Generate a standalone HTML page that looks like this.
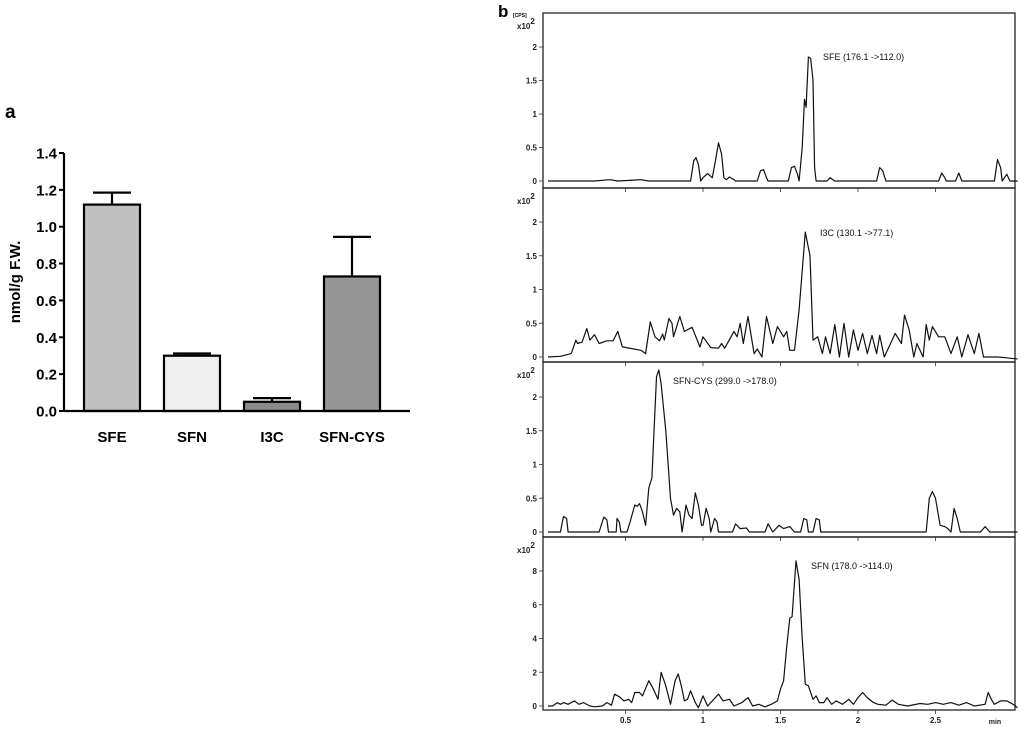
<!DOCTYPE html>
<html><head><meta charset="utf-8"><style>
html,body{margin:0;padding:0;background:#fff;}
svg{display:block;font-family:"Liberation Sans",Arial,sans-serif;}
</style></head><body>
<svg id="fig" width="1024" height="730" viewBox="0 0 1024 730">
<text x="5" y="118" font-size="19" font-weight="bold">a</text>
<text x="498" y="17" font-size="17" font-weight="bold">b</text>
<text x="513" y="17" font-size="5" font-weight="bold">[CPS]</text>
<g id="barChart"></g>
<g id="chrom"></g>
</svg>
<script>
const NS="http://www.w3.org/2000/svg";
function mk(tag,attrs,parent){const e=document.createElementNS(NS,tag);for(const k in attrs)e.setAttribute(k,attrs[k]);parent.appendChild(e);return e;}

// ---- Bar chart data ----
const barCategories=["SFE","SFN","I3C","SFN-CYS"];
const barValues=[1.12,0.30,0.05,0.73];
const barErrors=[0.065,0.012,0.02,0.215];
const barFills=["#c0c0c0","#efefef","#8a8a8a","#959595"];
const yTicks=[0,0.2,0.4,0.6,0.8,1.0,1.2,1.4];
const yTickLabels=["0.0","0.2","0.4","0.6","0.8","1.0","1.2","1.4"];

(function(){
  const g=document.getElementById('barChart');
  const x0=64,x1=410,yBase=411,yTop=153,yMax=1.4;
  const y=v=>yBase-(v/yMax)*(yBase-yTop);
  const bw=56;
  const xc=i=>112+i*80;
  barValues.forEach((v,i)=>{
    const cx=xc(i);
    const bx=cx-bw/2;
    const e=mk('line',{x1:cx,x2:cx,y1:y(v),y2:y(v+barErrors[i]),stroke:'#000','stroke-width':2.2},g);
    
    
    const c=mk('line',{x1:cx-19,x2:cx+19,y1:y(v+barErrors[i]),y2:y(v+barErrors[i]),stroke:'#000','stroke-width':2.2},g);
    
    
    const r=mk('rect',{x:bx,y:y(v),width:bw,height:yBase-y(v),fill:barFills[i],stroke:'#000','stroke-width':2.2},g);
    
    
    const t=mk('text',{x:cx,y:442,'font-size':15,'font-weight':'bold','text-anchor':'middle'},g);
    t.textContent=barCategories[i];
    
    
  });
  const ax=mk('line',{x1:x0,x2:x0,y1:yTop,y2:yBase,stroke:'#000','stroke-width':2.2},g);
  
  
  const bx=mk('line',{x1:x0,x2:x1,y1:yBase,y2:yBase,stroke:'#000','stroke-width':2.2},g);
  
  
  yTicks.forEach((v,i)=>{
    const tk=mk('line',{x1:x0-5,x2:x0,y1:y(v),y2:y(v),stroke:'#000','stroke-width':2},g);
    
    
    const tl=mk('text',{x:x0-7,y:y(v)+5.5,'font-size':15,'font-weight':'bold','text-anchor':'end'},g);
    tl.textContent=yTickLabels[i];
    
    
  });
  const yt=mk('text',{x:0,y:0,'font-size':15,'font-weight':'bold','text-anchor':'middle',transform:'translate(20,282) rotate(-90)'},g);
  yt.textContent='nmol/g F.W.';
  
  
})();

// ---- Chromatogram data (time min, intensity x10^2) ----
const sfeTrace=[0,0, 0.3,0, 0.4,0.02, 0.45,0, 0.6,0.02, 0.65,0, 0.92,0, 0.94,0.3, 0.955,0.35, 0.97,0.25, 0.985,0, 1.0,0.05, 1.03,0.11, 1.06,0.05, 1.08,0.3, 1.1,0.57, 1.12,0.4, 1.135,0.05, 1.15,0.02, 1.17,0.06, 1.2,0.02, 1.21,0, 1.35,0, 1.37,0.15, 1.39,0.17, 1.41,0.05, 1.42,0, 1.55,0, 1.57,0.2, 1.59,0.22, 1.61,0.1, 1.62,0, 1.64,0.5, 1.655,1.22, 1.665,1.1, 1.68,1.85, 1.695,1.83, 1.71,1.5, 1.72,0.2, 1.73,0, 1.8,0, 1.82,0.05, 1.85,0, 2.12,0, 2.14,0.2, 2.16,0.15, 2.18,0, 2.52,0, 2.54,0.12, 2.56,0.05, 2.57,0, 2.63,0, 2.65,0.12, 2.67,0, 2.88,0, 2.9,0.32, 2.92,0.2, 2.93,0, 2.96,0.1, 2.98,0, 3.03,0];
const i3cTrace=[0,0, 0.08,0.01, 0.15,0.05, 0.18,0.25, 0.19,0.2, 0.22,0.22, 0.25,0.42, 0.27,0.25, 0.3,0.33, 0.33,0.2, 0.38,0.24, 0.42,0.24, 0.45,0.38, 0.48,0.15, 0.6,0.1, 0.63,0.05, 0.66,0.52, 0.69,0.3, 0.72,0.24, 0.74,0.34, 0.75,0.25, 0.78,0.57, 0.8,0.5, 0.81,0.3, 0.85,0.6, 0.88,0.38, 0.93,0.44, 0.98,0.15, 1.0,0.3, 1.05,0.14, 1.1,0.13, 1.12,0.2, 1.14,0.13, 1.2,0.38, 1.22,0.3, 1.24,0.5, 1.26,0.2, 1.29,0.6, 1.33,0.05, 1.35,0.12, 1.38,0.0, 1.41,0.6, 1.45,0.2, 1.48,0.45, 1.52,0.3, 1.54,0.38, 1.56,0.1, 1.59,0.1, 1.62,0.7, 1.66,1.85, 1.69,1.5, 1.71,0.25, 1.74,0.3, 1.77,0.05, 1.79,0.3, 1.82,0.05, 1.85,0.48, 1.88,0, 1.91,0.5, 1.94,0, 1.97,0.4, 2.0,0.1, 2.03,0.35, 2.06,0.05, 2.09,0.32, 2.12,0.05, 2.14,0.32, 2.17,0, 2.24,0.35, 2.28,0.2, 2.3,0.62, 2.33,0.4, 2.36,0, 2.38,0.2, 2.42,0.0, 2.44,0.48, 2.46,0.25, 2.48,0.45, 2.52,0.3, 2.56,0.3, 2.6,0.05, 2.64,0.3, 2.67,0.0, 2.71,0.33, 2.75,0.05, 2.78,0.35, 2.81,0, 2.9,0, 2.95,-0.01, 3.03,-0.03];
const sfnCysTrace=[0,0, 0.08,0, 0.1,0.23, 0.12,0.2, 0.13,0, 0.33,0, 0.36,0.22, 0.38,0.18, 0.39,0, 0.44,0, 0.445,0.2, 0.46,0.15, 0.47,0, 0.51,0, 0.53,0.15, 0.56,0.4, 0.575,0.38, 0.59,0.42, 0.61,0.3, 0.63,0.1, 0.65,0.65, 0.67,0.8, 0.7,2.3, 0.715,2.4, 0.73,2.2, 0.76,1.5, 0.79,0.5, 0.81,0.25, 0.83,0.35, 0.85,0.3, 0.865,0, 0.89,0.4, 0.91,0.25, 0.93,0.2, 0.95,0.58, 0.97,0.4, 0.99,0.1, 1.0,0.1, 1.02,0.35, 1.04,0.2, 1.05,0, 1.075,0.2, 1.09,0.15, 1.1,0, 1.19,0, 1.21,0.12, 1.24,0.05, 1.28,0.06, 1.3,0, 1.4,0, 1.42,0.12, 1.45,0, 1.49,0.1, 1.52,0.05, 1.56,0.08, 1.59,0, 1.63,0, 1.65,0.2, 1.67,0.18, 1.68,0, 1.71,0, 1.73,0.2, 1.75,0.18, 1.76,0, 2.44,0, 2.46,0.5, 2.48,0.6, 2.5,0.5, 2.53,0.1, 2.56,0.08, 2.58,0.05, 2.6,0, 2.62,0.35, 2.64,0.2, 2.66,0, 2.79,0, 2.82,0.08, 2.85,0, 3.03,0];
const sfnTrace=[0,0, 0.03,0, 0.06,0.2, 0.08,0.1, 0.1,0.2, 0.13,0.1, 0.17,0.3, 0.2,0.1, 0.23,0.2, 0.27,0.0, 0.3,-0.05, 0.35,0.0, 0.38,0.2, 0.41,0.05, 0.43,0.7, 0.46,0.55, 0.49,0.3, 0.52,0.4, 0.54,0.2, 0.56,0.8, 0.59,0.8, 0.61,0.6, 0.65,1.5, 0.68,1.0, 0.71,0.4, 0.73,2.0, 0.76,1.2, 0.79,0.1, 0.82,1.5, 0.84,1.9, 0.86,1.2, 0.88,0.3, 0.9,0.4, 0.92,0.9, 0.95,0.2, 0.97,-0.1, 1.0,0.6, 1.03,0.0, 1.06,0.3, 1.1,0.7, 1.13,0.3, 1.17,0.4, 1.2,0.0, 1.25,0.2, 1.29,0.5, 1.32,0.0, 1.36,0.1, 1.4,-0.05, 1.44,0.1, 1.48,0.3, 1.5,1.0, 1.52,1.5, 1.54,3.5, 1.56,5.2, 1.575,5.3, 1.6,8.6, 1.62,7.5, 1.64,4.0, 1.66,1.3, 1.68,1.2, 1.71,0.4, 1.73,0.6, 1.75,0.2, 1.78,0.2, 1.8,0.5, 1.83,0.1, 1.86,0.3, 1.9,0.1, 1.94,0.4, 1.97,0.1, 2.0,0.5, 2.03,0.8, 2.06,0.5, 2.1,0.2, 2.13,0.1, 2.18,0.05, 2.22,0.35, 2.26,0.1, 2.32,0, 2.4,0.15, 2.45,0.1, 2.5,0.2, 2.55,0.1, 2.6,0.2, 2.65,0.05, 2.7,0.2, 2.75,0, 2.82,0.1, 2.84,0.8, 2.86,0.4, 2.88,0.1, 2.92,0.3, 2.96,0.3, 3.0,0.1, 3.03,-0.1];
const ticksA=[0,0.5,1,1.5,2];
const ticksA_labels=["0","0.5","1","1.5","2"];
const ticksSfn=[0,2,4,6,8];
const ticksSfn_labels=["0","2","4","6","8"];
const xTicks=[0.5,1,1.5,2,2.5];
const xTickLabels=["0.5","1","1.5","2","2.5"];

(function(){
  const g=document.getElementById('chrom');
  const fx0=543,fx1=1015,t0x=548,pxPerMin=155;
  const X=t=>t0x+t*pxPerMin;
  const panels=[
    {name:'sfe',top:13,bot:188,zero:181,ref:2,refY:47,data:sfeTrace,ticks:ticksA,labels:ticksA_labels,title:'SFE (176.1 ->112.0)',tx:823,ty:60},
    {name:'i3c',top:188,bot:362,zero:357,ref:2,refY:222,data:i3cTrace,ticks:ticksA,labels:ticksA_labels,title:'I3C (130.1 ->77.1)',tx:820,ty:236},
    {name:'sfn-cys',top:362,bot:537,zero:532,ref:2,refY:397,data:sfnCysTrace,ticks:ticksA,labels:ticksA_labels,title:'SFN-CYS (299.0 ->178.0)',tx:673,ty:384},
    {name:'sfn',top:537,bot:710,zero:706,ref:8,refY:571,data:sfnTrace,ticks:ticksSfn,labels:ticksSfn_labels,title:'SFN (178.0 ->114.0)',tx:811,ty:569}
  ];
  panels.forEach(p=>{
    const Y=v=>p.zero-v*(p.zero-p.refY)/p.ref;
    const fr=mk('rect',{x:fx0,y:p.top,width:fx1-fx0,height:p.bot-p.top,fill:'none',stroke:'#222','stroke-width':1.3},g);
    
    
    p.ticks.forEach((v,i)=>{
      const tk=mk('line',{x1:fx0-4,x2:fx0,y1:Y(v),y2:Y(v),stroke:'#333','stroke-width':0.8},g);
      
      
      const tl=mk('text',{x:fx0-6,y:Y(v)+3,'font-size':8,'font-weight':'bold','text-anchor':'end',fill:'#222'},g);
      tl.textContent=p.labels[i];
      
      
    });
    const ex=mk('text',{x:517,y:p.top+16,'font-size':8,'font-weight':'bold',fill:'#222'},g);
    ex.innerHTML='x10<tspan dy="-5" font-size="8">2</tspan>';
    
    
    xTicks.forEach(t=>{
      const tk=mk('line',{x1:X(t),x2:X(t),y1:p.bot,y2:p.bot+4,stroke:'#333','stroke-width':0.8},g);
      
      
    });
    let d='';
    for(let i=0;i<p.data.length;i+=2){d+=(i?'L':'M')+X(p.data[i]).toFixed(1)+' '+Y(p.data[i+1]).toFixed(1);}
    const path=mk('path',{d:d,fill:'none',stroke:'#111','stroke-width':1.2,'stroke-linejoin':'round'},g);
    
    
    const tt=mk('text',{x:p.tx,y:p.ty,'font-size':9,fill:'#111'},g);
    tt.textContent=p.title;
    
    
  });
  xTicks.forEach((t,i)=>{
    const tl=mk('text',{x:X(t),y:723,'font-size':8,'font-weight':'bold','text-anchor':'middle',fill:'#222'},g);
    tl.textContent=xTickLabels[i];
    
    
  });
  const mn=mk('text',{x:995,y:724,'font-size':7,'font-weight':'bold','text-anchor':'middle',fill:'#222'},g);
  mn.textContent='min';
  
  
})();
</script>
</body></html>
